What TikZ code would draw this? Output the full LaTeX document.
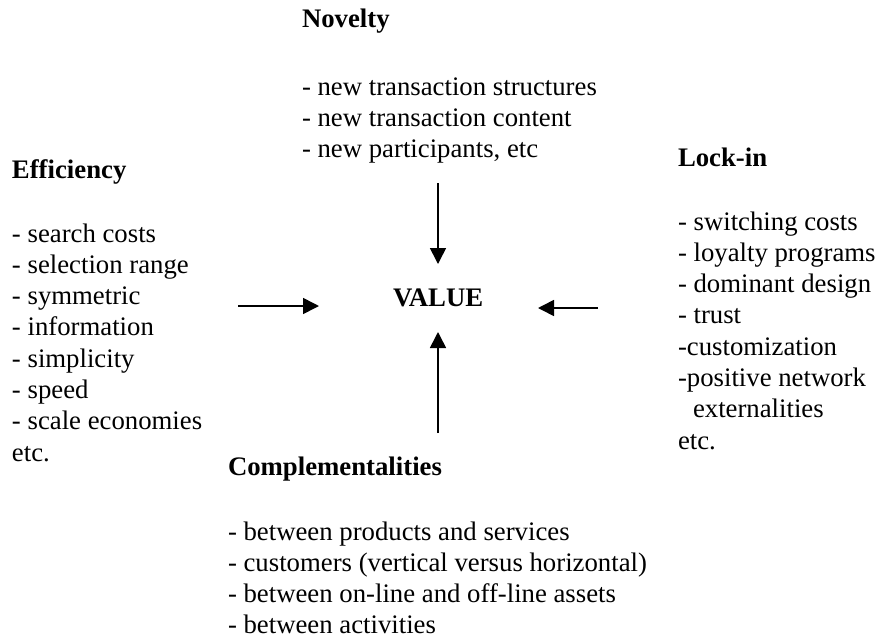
\documentclass[tikz,border=0pt]{standalone}
\usepackage{fontspec}
\setmainfont{Liberation Serif}
\usetikzlibrary{arrows.meta}
\tikzset{
  txt/.style={inner sep=0pt, outer sep=0pt, align=left,
    font=\fontsize{26.75}{31.3}\selectfont},
  ttl/.style={inner sep=0pt, outer sep=0pt, anchor=base west,
    font=\fontsize{26.75}{31.3}\selectfont\bfseries},
  lst/.style={txt, anchor=north west},
  arr/.style={line width=1.6pt, -{Triangle[length=16pt,width=16pt]}}
}
\newcommand{\firstline}{\rule{0pt}{20pt}}
\begin{document}
\begin{tikzpicture}[x=1pt,y=-1pt]
\useasboundingbox (0,0) rectangle (879,638);
% titles
\node[ttl] (novT) at (302,27) {Novelty};
\node[ttl] (effT) at (12,178) {Efficiency};
\node[ttl] (lockT) at (678,166) {Lock-in};
\node[ttl] (compT) at (228,475) {Complementalities};
\node[ttl] (value) at (393,306) {VALUE};
% lists
\node[lst] (novL) at (302,75) {\firstline- new transaction structures\\- new transaction content\\- new participants, etc};
\node[lst] (effL) at (12,222) {\firstline- search costs\\- selection range\\- symmetric\\- information\\- simplicity\\- speed\\- scale economies\\etc.};
\node[lst] (lockL) at (678,210) {\firstline- switching costs\\- loyalty programs\\- dominant design\\- trust\\-customization\\-positive network\\\hspace*{15pt}externalities\\etc.};
\node[lst] (compL) at (228,520) {\firstline- between products and services\\- customers (vertical versus horizontal)\\- between on-line and off-line assets\\- between activities};
% arrow ends
\coordinate (ntail) at (438,183);
\coordinate (nhead) at (438,264);
\coordinate (ctail) at (438,433);
\coordinate (chead) at (438,332);
\coordinate (etail) at (238,306);
\coordinate (ehead) at (319,306);
\coordinate (ltail) at (598,308);
\coordinate (lhead) at (538,308);
\draw[arr] (ntail) -- (nhead);
\draw[arr] (ctail) -- (chead);
\draw[arr] (etail) -- (ehead);
\draw[arr] (ltail) -- (lhead);
\end{tikzpicture}
\end{document}
